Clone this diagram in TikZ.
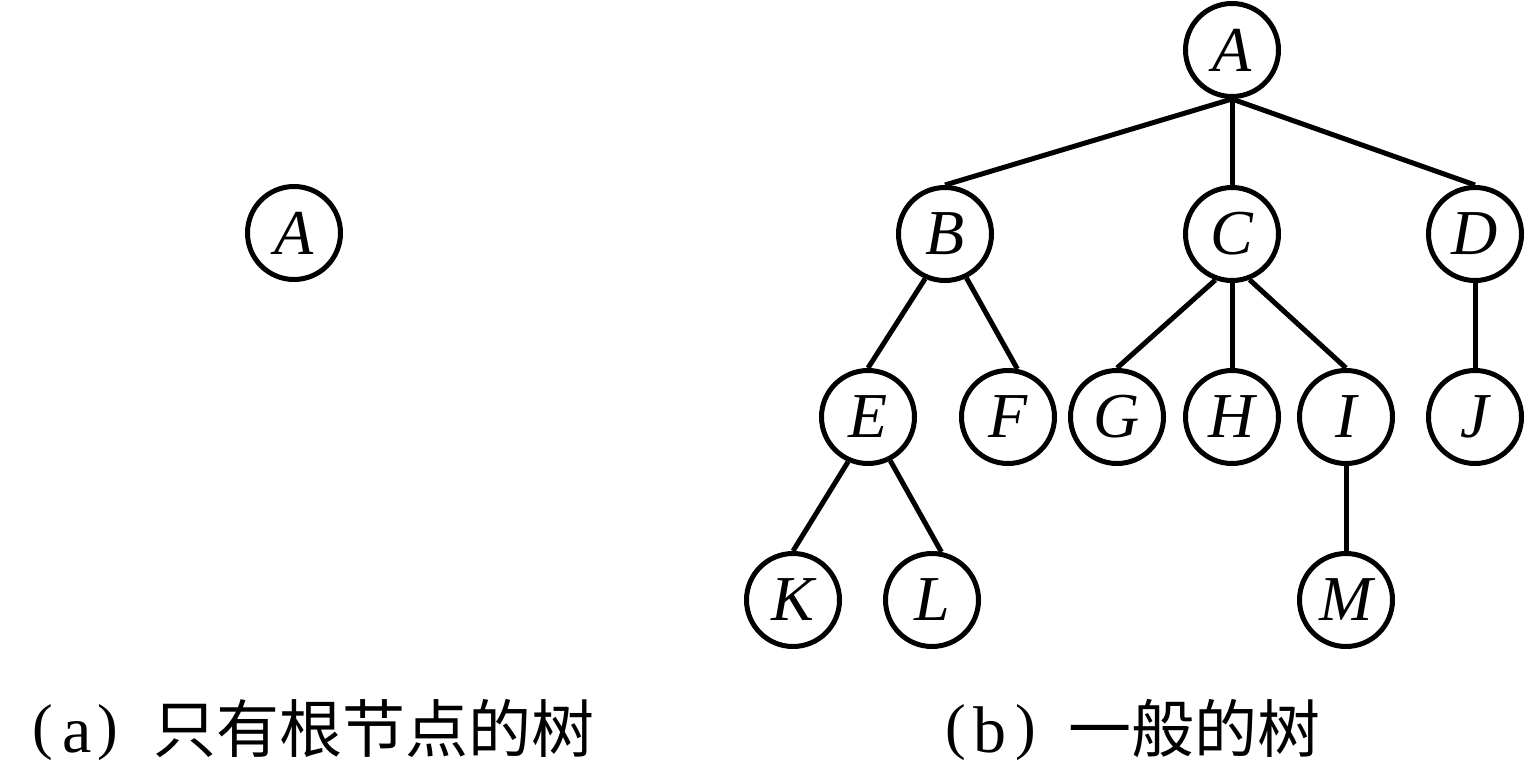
\documentclass[tikz,border=0pt]{standalone}
\usepackage{fontspec}
\setmainfont{Liberation Serif}
\newfontfamily\cjk{Noto Sans CJK SC}
% caption pieces: Latin label in parentheses, then the Chinese title
\newcommand{\capparen}[1]{\raisebox{5pt}{\fontsize{62}{62}\selectfont #1}}
\begin{document}
\begin{tikzpicture}[x=1pt,y=-1pt,
  treenode/.style={circle,draw,line width=5pt,minimum size=93pt,inner sep=0pt,
    font=\fontsize{64}{64}\selectfont\itshape},
  edge/.style={line width=5pt},
  caption/.style={font=\fontsize{66}{66}\selectfont,inner sep=0pt,anchor=base west}]
\useasboundingbox (0,0) rectangle (1526,771);

% (a) a tree with only a root
\node[treenode] (a0) at (294,233) {A};

% (b) a general tree
\node[treenode] (A) at (1232,50)  {A};
\node[treenode] (B) at (945,234)  {B};
\node[treenode] (C) at (1232,234) {C};
\node[treenode] (D) at (1475,234) {D};
\node[treenode] (E) at (868,417)  {E};
\node[treenode] (F) at (1008,417) {F};
\node[treenode] (G) at (1117,417) {G};
\node[treenode] (H) at (1232,417) {H};
\node[treenode] (I) at (1346,417) {I};
\node[treenode] (J) at (1475,417) {J};
\node[treenode] (K) at (793,600)  {K};
\node[treenode] (L) at (932,600)  {L};
\node[treenode] (M) at (1346,600) {M};

\draw[edge] (A.south) -- (B.north);
\draw[edge] (A.south) -- (C.north);
\draw[edge] (A.south) -- (D.north);
\draw[edge] (B.-114) -- (E.north);
\draw[edge] (B.-64) -- (F.79);
\draw[edge] (C.-110) -- (G.north);
\draw[edge] (C.south) -- (H.north);
\draw[edge] (C.-69) -- (I.north);
\draw[edge] (D.south) -- (J.north);
\draw[edge] (E.-114) -- (K.north);
\draw[edge] (E.-63) -- (L.79);
\draw[edge] (I.south) -- (M.north);

% captions
\node[caption] (capa) at (32,752)
  {\capparen{(}\kern10pt a\kern5pt\capparen{)}\kern36pt{\fontsize{63}{63}\selectfont\cjk 只有根节点的树}};
\node[caption] (capb) at (945,752)
  {\capparen{(}\kern8pt b\kern9pt\capparen{)}\kern32pt{\fontsize{63}{63}\selectfont\cjk 一般的树}};
\end{tikzpicture}
\end{document}
